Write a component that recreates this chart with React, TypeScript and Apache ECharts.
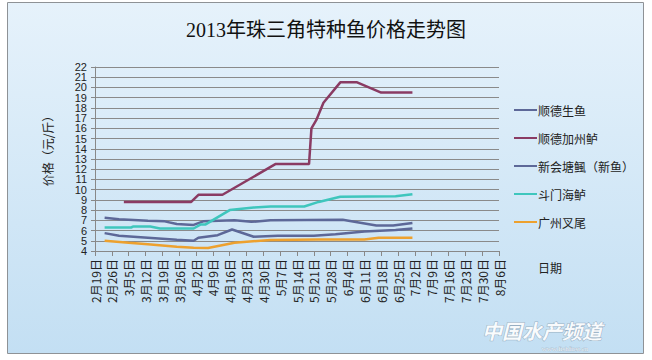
import React, { useEffect, useRef } from "react";
import * as echarts from "echarts";

const TITLE = "2013年珠三角特种鱼价格走势图";
const SERIES_NAMES = ["顺德生鱼", "顺德加州鲈", "新会塘鲺（新鱼）", "斗门海鲈", "广州叉尾"];
const COLORS = ["#5D6898", "#8A3B63", "#5D6898", "#3FC6BD", "#EDA12E"];

// dates (MM-DD, 2013) and prices (元/斤)
const shengyuDates = ["02-23", "03-01", "03-13", "03-20", "03-25", "04-01", "04-05", "04-18", "04-25", "05-03", "06-02", "06-16", "06-23", "07-01"];
const shengyuPrices = [7.25, 7.1, 6.95, 6.9, 6.65, 6.55, 6.9, 7.0, 6.85, 7.0, 7.05, 6.5, 6.5, 6.75];

const jiazhouluDates = ["03-03", "03-31", "04-03", "04-13", "05-05", "05-19", "05-20", "05-22", "05-25", "06-01", "06-08", "06-18", "07-01"];
const jiazhouluPrices = [8.8, 8.8, 9.5, 9.5, 12.5, 12.5, 16.0, 16.8, 18.5, 20.5, 20.5, 19.5, 19.5];

const tangshiDates = ["02-23", "03-01", "03-13", "03-25", "04-01", "04-03", "04-11", "04-17", "04-26", "05-06", "05-21", "05-30", "06-11", "06-24", "07-01"];
const tangshiPrices = [5.75, 5.5, 5.3, 5.1, 5.0, 5.3, 5.55, 6.1, 5.4, 5.5, 5.5, 5.65, 5.9, 6.05, 6.2];

const haiyuDates = ["02-23", "03-06", "03-07", "03-14", "03-18", "04-01", "04-04", "04-06", "04-16", "04-26", "05-03", "05-17", "05-23", "06-01", "06-24", "07-01"];
const haiyuPrices = [6.3, 6.3, 6.4, 6.4, 6.2, 6.2, 6.6, 6.6, 8.0, 8.25, 8.35, 8.35, 8.8, 9.3, 9.35, 9.55];

const chaweiDates = ["02-23", "03-05", "03-13", "03-25", "04-01", "04-07", "04-18", "05-03", "05-23", "06-11", "06-17", "07-01"];
const chaweiPrices = [5.0, 4.8, 4.65, 4.42, 4.32, 4.3, 4.8, 5.08, 5.12, 5.12, 5.3, 5.3];

const AXIS_START = "02-19";
const AXIS_END = "08-06";
const Y_MIN = 4;
const Y_MAX = 22;

const START_MS = Date.UTC(2013, 1, 19);
const dayOf = (s: string) => {
  const [m, d] = s.split("-").map(Number);
  return Math.round((Date.UTC(2013, m - 1, d) - START_MS) / 86400000);
};
const fmtDay = (v: number) => {
  const dt = new Date(START_MS + v * 86400000);
  return `${dt.getUTCMonth() + 1}月${dt.getUTCDate()}日`;
};

const seriesData: [string[], number[]][] = [
  [shengyuDates, shengyuPrices],
  [jiazhouluDates, jiazhouluPrices],
  [tangshiDates, tangshiPrices],
  [haiyuDates, haiyuPrices],
  [chaweiDates, chaweiPrices],
];

const yLabelRich = {
  n: { fontSize: 11, lineHeight: 9, height: 9, color: "#222", fontFamily: "'Liberation Sans', sans-serif" },
};

export default function App() {
  const ref = useRef<HTMLDivElement>(null);
  useEffect(() => {
    if (!ref.current) return;
    const chart = echarts.init(ref.current, undefined, { renderer: "svg" });
    const font = "'Noto Sans CJK SC', 'Liberation Sans', sans-serif";
    chart.setOption({
      animation: false,
      backgroundColor: "#ffffff",
      color: COLORS,
      title: {
        text: TITLE,
        left: "center",
        top: 15,
        textStyle: { fontSize: 20, fontWeight: "normal", color: "#111", fontFamily: "'Liberation Serif', 'Noto Sans CJK SC', serif" },
      },
      graphic: [
        {
          type: "rect",
          z: -10,
          silent: true,
          shape: { x: 7.5, y: 2.5, width: 636, height: 351 },
          style: {
            fill: new echarts.graphic.LinearGradient(0, 0, 0, 1, [
              { offset: 0, color: "#E6F2FB" },
              { offset: 1, color: "#C3DFF3" },
            ]),
            stroke: "#8E9296",
            lineWidth: 1,
          },
        },
        {
          type: "text",
          x: 47,
          y: 148,
          rotation: Math.PI / 2,
          style: { text: "价格（元/斤）", fontSize: 12, fill: "#222", align: "center", verticalAlign: "middle", fontFamily: font },
        },
        {
          type: "text",
          x: 538,
          y: 267,
          style: { text: "日期", fontSize: 12, fill: "#222", align: "left", verticalAlign: "middle", fontFamily: font },
        },
        {
          type: "text",
          x: 542,
          y: 330,
          style: {
            text: "中国水产频道",
            fontSize: 20,
            lineHeight: 20,
            fontWeight: "bold",
            fontStyle: "italic",
            fill: "rgba(255,255,255,0.92)",
            stroke: "rgba(120,140,160,0.6)",
            lineWidth: 1,
            align: "center",
            verticalAlign: "middle",
            fontFamily: font,
          },
        },
        {
          type: "text",
          x: 565,
          y: 349,
          style: {
            text: "www.fishfirst.cn",
            fontSize: 7,
            lineHeight: 7,
            fill: "rgba(255,255,255,0.9)",
            stroke: "rgba(120,140,160,0.5)",
            lineWidth: 0.5,
            align: "center",
            verticalAlign: "middle",
            fontFamily: "'Liberation Serif', serif",
          },
        },
      ],
      legend: {
        orient: "vertical",
        left: 509,
        top: 98,
        itemWidth: 23,
        itemHeight: 2,
        itemGap: 14,
        icon: "rect",
        data: SERIES_NAMES,
        textStyle: { fontSize: 12, color: "#222", fontFamily: font, lineHeight: 14, padding: [0, 0, 0, -4] },
      },
      grid: { left: 95, right: 153, top: 67, bottom: 109, containLabel: false },
      xAxis: {
        type: "value",
        min: dayOf(AXIS_START),
        max: dayOf(AXIS_END),
        interval: 7,
        axisLine: { show: true, lineStyle: { color: "#888", width: 1 } },
        axisTick: { show: true, length: 5, lineStyle: { color: "#888" } },
        splitLine: { show: false },
        axisLabel: {
          rotate: 90,
          margin: 8,
          fontSize: 12,
          color: "#222",
          fontFamily: font,
          showMinLabel: true,
          showMaxLabel: true,
          formatter: (v: number) => fmtDay(v),
        },
      },
      yAxis: [
        {
          type: "value",
          position: "left",
          min: Y_MIN,
          max: Y_MAX,
          interval: 1,
          axisLine: { show: true, lineStyle: { color: "#888", width: 1 } },
          axisTick: { show: true, length: 4, lineStyle: { color: "#888" } },
          splitLine: { show: true, lineStyle: { color: "#8A8A8A", width: 1 } },
          axisLabel: {
            margin: 8,
            showMinLabel: true,
            showMaxLabel: true,
            hideOverlap: false,
            formatter: (v: number) => (v === Y_MIN + 1 || v === Y_MAX - 1 ? "" : `{n|${v}}`),
            rich: yLabelRich,
          },
        },
        {
          type: "value",
          position: "left",
          min: Y_MIN,
          max: Y_MAX,
          interval: 1,
          axisLine: { show: false },
          axisTick: { show: false },
          splitLine: { show: false },
          axisLabel: {
            margin: 8,
            showMinLabel: false,
            showMaxLabel: false,
            hideOverlap: false,
            formatter: (v: number) => (v === Y_MIN + 1 || v === Y_MAX - 1 ? `{n|${v}}` : ""),
            rich: yLabelRich,
          },
        },
      ],
      series: SERIES_NAMES.map((name, i) => ({
        name,
        type: "line",
        yAxisIndex: 0,
        showSymbol: false,
        symbol: "none",
        lineStyle: { width: 2.5, color: COLORS[i] },
        itemStyle: { color: COLORS[i] },
        data: seriesData[i][0].map((d, j) => [dayOf(d), seriesData[i][1][j]]),
      })),
    });
    return () => chart.dispose();
  }, []);
  return <div ref={ref} style={{ position: "fixed", left: 0, top: 0, width: 652, height: 360 }} />;
}
